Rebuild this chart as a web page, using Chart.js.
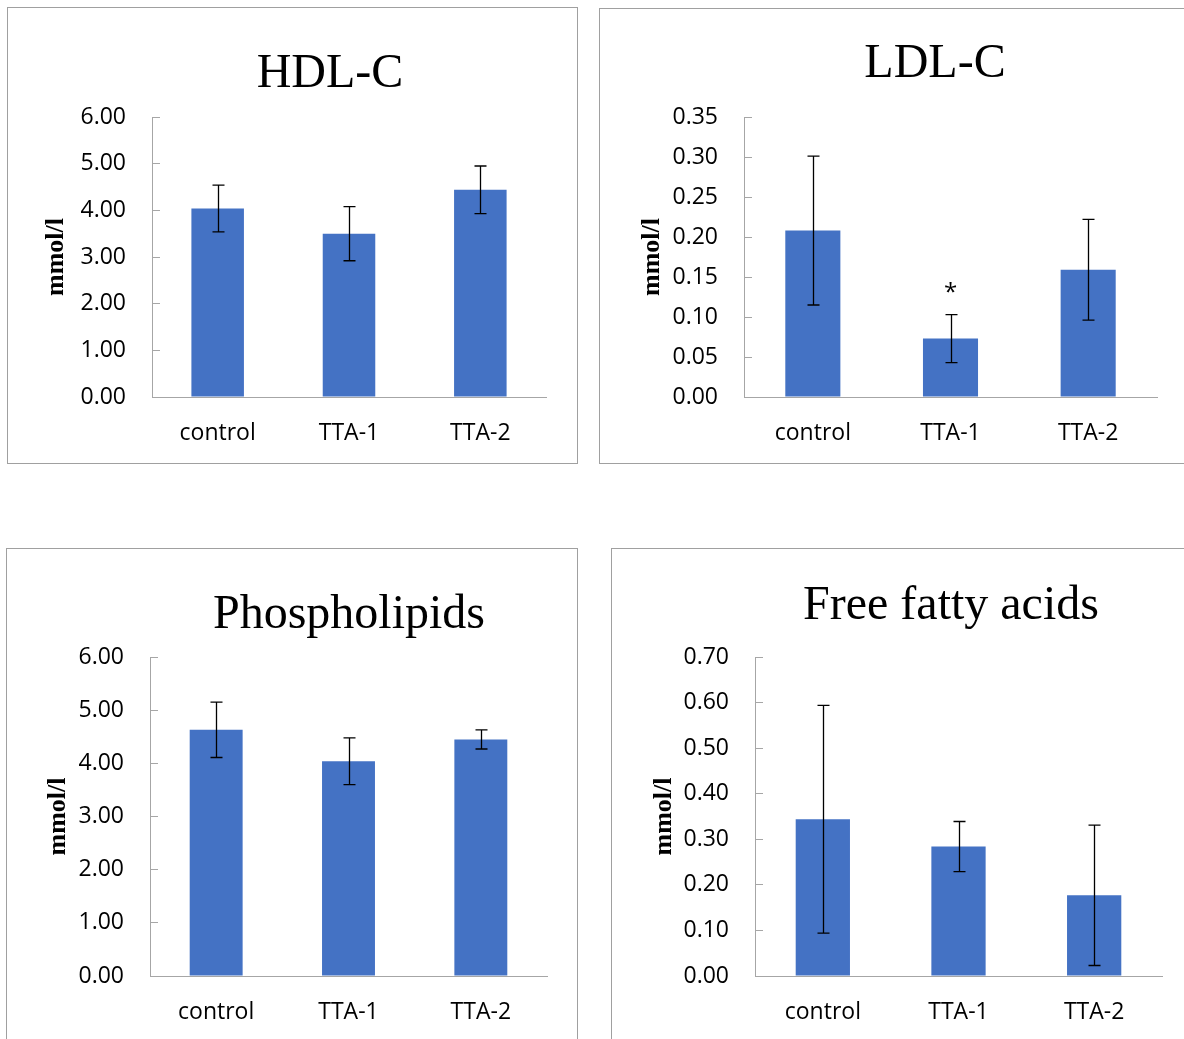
<!DOCTYPE html>
<html lang="en">
<head>
  <meta charset="UTF-8" />
  <title>Serum lipids</title>
  <script src="https://cdn.jsdelivr.net/npm/chart.js"></script>
  <style>
    html, body {
      margin: 0;
      padding: 0;
      background: #fff;
      width: 1184px;
      height: 1039px;
      overflow: hidden;
    }
    .panel {
      position: absolute;
      border: 1px solid #a0a0a0;
      background: #fff;
    }
    .panel canvas {
      position: absolute;
      left: 0;
      top: 0;
    }
  </style>
</head>
<body>
  <div class="panel" id="p1" style="left:7px;top:7px;width:569px;height:455px"><canvas id="hdl"></canvas></div>
  <div class="panel" id="p2" style="left:599px;top:8px;width:600px;height:454px"><canvas id="ldl"></canvas></div>
  <div class="panel" id="p3" style="left:6px;top:548px;width:570px;height:520px"><canvas id="pl"></canvas></div>
  <div class="panel" id="p4" style="left:611px;top:548px;width:600px;height:520px"><canvas id="ffa"></canvas></div>

  <script>
    const categories = ["control", "TTA-1", "TTA-2"];

    const hdlMeans = [4.04, 3.50, 4.44];
    const hdlErrors = [0.50, 0.58, 0.51];

    const ldlMeans = [0.208, 0.073, 0.159];
    const ldlErrors = [0.093, 0.030, 0.063];
    const ldlMarks = ["", "*", ""];

    const plMeans = [4.63, 4.04, 4.45];
    const plErrors = [0.52, 0.44, 0.18];

    const ffaMeans = [0.344, 0.284, 0.177];
    const ffaErrors = [0.25, 0.055, 0.154];

    const BAR = '#4472c4';
    const AXIS = '#a6a6a6';
    const YTITLE_SIZE = 26;

    // error bars + significance marks, drawn through the y scale
    const errorBars = {
      id: 'errorBars',
      afterDatasetsDraw(chart, args, opts) {
        const ctx = chart.ctx;
        const y = chart.scales.y;
        const meta = chart.getDatasetMeta(0);
        const means = chart.data.datasets[0].data;
        ctx.save();
        ctx.strokeStyle = '#000';
        ctx.lineWidth = 1.3;
        means.forEach((m, i) => {
          const cx = Math.round(meta.data[i].x) + 0.5;
          const hi = y.getPixelForValue(m + opts.errors[i]);
          const lo = y.getPixelForValue(m - opts.errors[i]);
          ctx.beginPath();
          ctx.moveTo(cx, hi); ctx.lineTo(cx, lo);
          ctx.moveTo(cx - 6, hi); ctx.lineTo(cx + 6, hi);
          ctx.moveTo(cx - 6, lo); ctx.lineTo(cx + 6, lo);
          ctx.stroke();
          if (opts.marks && opts.marks[i]) {
            ctx.fillStyle = '#000';
            ctx.font = '24px "Open Sans"';
            ctx.textAlign = 'center';
            ctx.textBaseline = 'alphabetic';
            ctx.fillText(opts.marks[i], cx - 1, hi - 15);
          }
        });
        ctx.restore();
      }
    };

    // serif panel title, placed like the original figure
    const panelTitle = {
      id: 'panelTitle',
      afterDraw(chart, args, opts) {
        const ctx = chart.ctx;
        ctx.save();
        ctx.font = '48px "Liberation Serif"';
        ctx.fillStyle = '#000';
        ctx.textAlign = 'center';
        ctx.textBaseline = 'alphabetic';
        ctx.fillText(opts.text, opts.x, opts.y);
        ctx.restore();
      }
    };

    function lipidChart(canvasId, panelId, o) {
      const panel = document.getElementById(panelId);
      const ox = panel.offsetLeft + 1, oy = panel.offsetTop + 1;
      const cw = panel.clientWidth, ch = panel.clientHeight;
      const canvas = document.getElementById(canvasId);
      canvas.width = cw;
      canvas.height = ch;
      const [L, T, R, B] = o.area;

      return new Chart(canvas, {
        type: 'bar',
        data: {
          labels: categories,
          datasets: [{
            data: o.means,
            backgroundColor: BAR,
            barPercentage: 0.4,
            categoryPercentage: 1
          }]
        },
        options: {
          responsive: false,
          animation: false,
          devicePixelRatio: 1,
          layout: { padding: { left: 0, top: T - oy, right: cw - (R - ox), bottom: 0 } },
          plugins: {
            legend: { display: false },
            tooltip: { enabled: false },
            errorBars: { errors: o.errors, marks: o.marks },
            panelTitle: { text: o.title, x: o.titleX - ox, y: o.titleBase - oy }
          },
          scales: {
            x: {
              grid: { display: false, drawTicks: false },
              border: { display: true, color: AXIS, width: 1 },
              ticks: { font: { family: 'Open Sans', size: 23 }, color: '#000', padding: 23 },
              afterFit: s => { s.height = ch - (B - oy); }
            },
            y: {
              min: 0,
              max: o.max,
              ticks: {
                stepSize: o.step,
                callback: v => Number(v).toFixed(2),
                font: { family: 'Open Sans', size: 23 },
                color: '#000',
                padding: 34
              },
              grid: { drawOnChartArea: false, drawTicks: true, tickLength: -8, color: AXIS },
              border: { display: true, color: AXIS, width: 1 },
              title: {
                display: true,
                text: 'mmol/l',
                color: '#000',
                font: { family: 'Liberation Serif', size: YTITLE_SIZE, weight: 'bold' },
                padding: { top: o.yTitleX - ox - YTITLE_SIZE * 0.6, bottom: 0 }
              },
              afterFit: s => { s.width = L - ox; }
            }
          }
        },
        plugins: [errorBars, panelTitle]
      });
    }

    lipidChart('hdl', 'p1', {
      title: 'HDL-C', means: hdlMeans, errors: hdlErrors, max: 6, step: 1,
      area: [152, 117, 546, 397], yTitleX: 56, titleX: 330, titleBase: 87
    });
    lipidChart('ldl', 'p2', {
      title: 'LDL-C', means: ldlMeans, errors: ldlErrors, marks: ldlMarks, max: 0.35, step: 0.05,
      area: [744, 117, 1157, 397], yTitleX: 652, titleX: 935, titleBase: 77
    });
    lipidChart('pl', 'p3', {
      title: 'Phospholipids', means: plMeans, errors: plErrors, max: 6, step: 1,
      area: [150, 657, 547, 976], yTitleX: 58, titleX: 349, titleBase: 628
    });
    lipidChart('ffa', 'p4', {
      title: 'Free fatty acids', means: ffaMeans, errors: ffaErrors, max: 0.7, step: 0.1,
      area: [755, 657, 1162, 976], yTitleX: 664, titleX: 951, titleBase: 619
    });
  </script>
</body>
</html>
